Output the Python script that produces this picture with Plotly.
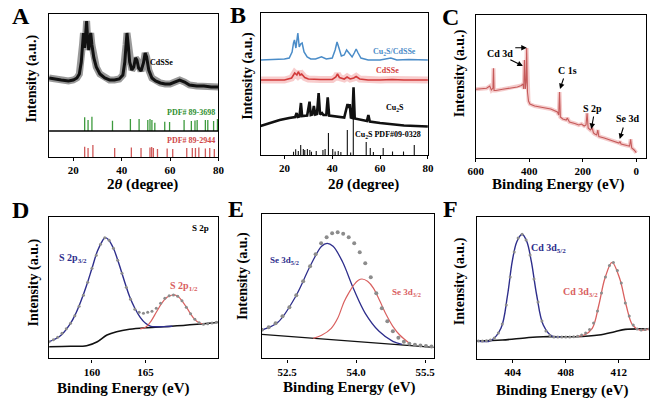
import plotly.graph_objects as go

W, H = 660, 404
SERIF = "Liberation Serif"

# ---------------- Panel A : XRD CdSSe ----------------
a_theta = [10, 12, 15, 18, 20, 21.5, 22.5, 23.3, 23.8, 24.2, 24.7, 25.1, 25.5, 25.9, 26.4, 26.8, 27.2, 27.7,
           28.5, 29.5, 31, 33, 35, 37, 39, 40.5, 41.3, 41.8, 42.2, 42.7, 43.3, 44.2, 45, 45.7, 46.3, 47, 48,
           49, 49.7, 50.3, 51.2, 52.5, 54, 56, 58, 60, 62, 64, 66, 68, 71, 74, 77, 80]
a_int = [79, 78, 77, 76, 77, 79, 83, 95, 112, 124, 109, 119, 136, 119, 107, 117, 124, 112,
         99, 90, 83, 79, 77, 77, 78, 82, 95, 112, 124, 112, 95, 87, 90, 99, 97, 89, 86,
         94, 104, 100, 87, 79, 76, 74, 73, 73, 75, 77, 75, 72, 71, 71, 70, 70]
a_green_pos = [24.7, 26.1, 27.7, 36.2, 43.6, 47.2, 50.8, 51.7, 52.5, 53.7, 57.8, 59.8, 65.8, 68.8, 70.3,
               71.2, 74.6, 75.6, 78.0, 79.6]
a_green_int = [13.7, 11, 14.3, 10.3, 12, 12, 11, 12, 11, 8.3, 9.3, 9, 11, 10, 10.5, 11, 11, 11, 10, 12]
a_red_pos = [24.7, 26.1, 28.1, 37.1, 44.0, 48.0, 51.7, 52.4, 53.1, 54.8, 58.8, 61.1, 66.9, 69.2, 70.5,
             71.9, 74.6, 76.4, 78.3]
a_red_int = [10.3, 9, 12, 9, 9.5, 9, 9.5, 10, 9, 8, 8.5, 8, 9, 9, 9, 9.5, 8.5, 9, 8]

# ---------------- Panel B : XRD comparison ----------------
b_blue_theta = [10, 15, 20, 22, 23.2, 23.8, 24.2, 24.8, 25.6, 26.2, 26.8, 27.4, 28.2, 29.5, 31, 33, 35.5,
                37.5, 40, 41.2, 42, 42.8, 43.8, 45, 46, 47, 48.3, 49.2, 50, 50.8, 52, 55, 60, 64.5, 67,
                72, 76, 80]
b_blue_int = [95, 95.5, 96, 97, 103, 112, 115, 107, 122, 108, 111, 112, 103, 98, 96, 96, 98.3,
              96, 97, 105, 113, 107, 99, 100, 105, 102, 98, 102, 106, 102, 97, 95, 95, 97, 95,
              95.5, 95, 95]
b_red_theta = [10, 20, 23, 24.3, 25.2, 25.8, 26.5, 27.2, 28.5, 30, 35, 40, 41.5, 42.2, 43, 45, 46.2,
               47.5, 49, 50, 51.5, 55, 60, 65, 70, 80]
b_red_int = [75, 75, 77, 82, 80, 83.3, 80, 81, 77.5, 76, 75.5, 75.5, 78, 81, 77.5, 76, 78,
             76, 77, 78.5, 76, 75, 75, 75.5, 75, 75]
b_blk_theta = [10, 14, 18, 22, 24.5, 25.1, 25.6, 26.3, 26.9, 27.4, 29.5, 30.5, 31.0, 31.7, 32.3, 32.9,
               33.6, 34.3, 34.9, 35.7, 36.3, 37.5, 38.1, 38.7, 41, 45, 46.4, 46.85, 47.3, 47.8, 48.4,
               48.9, 49.4, 52, 54.5, 55.1, 55.7, 60, 65, 70, 75, 80]
b_blk_int = [29, 32, 35, 37, 38, 42, 38, 38.5, 52, 39, 39.5, 53.3, 40, 40.5, 49, 40.5,
             41, 62, 40.5, 42, 40, 40, 57.7, 39.5, 39, 37.5, 51, 47, 51, 37.5, 37,
             67.7, 36.5, 35, 34, 40, 33.5, 32, 30.5, 29.5, 29, 28.5]
b_pdf_pos = [23.8, 24.7, 25.8, 26.8, 27.9, 28.5, 29.6, 30.6, 31.3, 33.3, 36.1, 37.0, 38.4, 40.2, 41.2,
             42.5, 43.6, 46.3, 47.7, 48.8, 54.2, 55.9, 57.2, 61.3, 65.2, 69.8, 74.3]
b_pdf_int = [3.3, 5.7, 4, 10, 6, 5, 6, 5, 3.3, 4, 5, 6, 22, 6, 3.5, 4, 3, 25, 2.5, 38, 13, 7, 3, 7,
             3.5, 3.5, 10]

# ---------------- Panel C : XPS survey ----------------
c_be = [600, 580, 560, 548, 542, 536, 534, 532, 525, 500, 470, 445, 430, 424, 421, 418, 415, 412, 410,
        407, 403, 398, 380, 350, 320, 295, 290, 287, 284, 275, 262, 258, 250, 230, 215, 205, 195, 188,
        184, 180, 172, 165, 160, 155, 148, 144, 140, 120, 100, 80, 65, 61, 57, 35, 25, 21, 17, 8, 0]
c_int = [68.7, 69.5, 69.7, 72, 68, 70, 89.7, 67.5, 67.5, 68.7, 70, 71, 72.5, 74, 69, 98, 69, 76, 110,
         66, 57, 54, 52, 50.5, 49, 46, 43, 66, 41, 39, 38, 40, 36, 34.5, 33, 34, 32, 33,
         44.7, 30, 28, 30, 25, 24, 23, 28, 21.5, 20, 18, 16.5, 15, 16.5, 14, 12.5, 12, 18.7, 10, 8, 5.3]
c_ticks = [600, 400, 200, 0]

# ---------------- Panel D : S 2p ----------------
d_bg_be = [156, 158, 159.5, 160.5, 161.4, 162.3, 163.5, 165.1, 167.4, 169.8, 171.8]
d_bg_int = [11.6, 12, 12.6, 16.6, 23.3, 26.6, 29, 30.6, 32, 34, 36]
d_p32_be = [156, 157, 158, 158.5, 159, 159.5, 160, 160.5, 161, 161.2, 161.5, 162, 162.5, 163, 163.5, 164,
            164.5, 165, 165.5, 166, 167, 167.5]
d_p32_int = [16.6, 22, 35, 45, 58, 73, 90, 107, 118, 120.6, 119, 110, 95, 78, 62, 50,
             41, 35, 32, 31.5, 31.8, 32]
d_p12_be = [164.5, 165, 165.5, 166, 166.5, 167, 167.5, 168, 168.5, 169, 169.5, 170, 170.5]
d_p12_int = [29.5, 31, 37, 46, 55, 61, 63.3, 62, 56, 48, 40, 35.5, 34]
d_raw_be = [156.0, 156.4, 156.8, 157.2, 157.6, 158.0, 158.4, 158.8, 159.2, 159.6, 160.0, 160.4, 160.8,
            161.2, 161.6, 162.0, 162.4, 162.8, 163.2, 163.6, 164.0, 164.4, 164.8, 165.2, 165.6, 166.0,
            166.4, 166.8, 167.2, 167.6, 168.0, 168.4, 168.8, 169.2, 169.6, 170.0, 170.4, 170.8, 171.2,
            171.6]
d_raw_int = [16.6, 18.5, 21, 25, 29.5, 35, 42.5, 52, 63, 76, 90, 103, 114,
             120.6, 118, 110, 98, 85, 71, 59, 49, 46, 45, 46, 47, 50,
             55, 60, 62.5, 63.3, 62, 57.5, 51, 44.5, 39, 35.5, 34, 34.5, 35.2, 36]

# ---------------- Panel E : Se 3d ----------------
e_bg_be = [51.95, 55.69]
e_bg_int = [24, 11]
e_p52_be = [51.95, 52.0, 52.3, 52.7, 53.0, 53.25, 53.37, 53.5, 53.7, 53.95, 54.2, 54.5, 54.8, 55.0]
e_p52_int = [28.3, 29, 36, 63, 92, 112, 115, 112, 97, 69, 45, 27, 17, 14]
e_p32_be = [53.07, 53.25, 53.46, 53.6, 53.74, 53.85, 53.95, 54.05, 54.13, 54.25, 54.38, 54.52, 54.66,
            54.8, 54.95, 55.16]
e_p32_int = [20, 23, 30, 40, 56.6, 66, 73.3, 78, 79.3, 77, 70, 57, 43.3, 32, 23.3, 15]
e_raw_be = [51.95, 52.1, 52.25, 52.4, 52.55, 52.7, 52.85, 53.0, 53.12, 53.24, 53.36, 53.48, 53.6, 53.72,
            53.84, 53.96, 54.08, 54.2, 54.32, 54.44, 54.56, 54.68, 54.8, 54.92, 55.04, 55.16, 55.28,
            55.4, 55.52, 55.64]
e_raw_int = [28.5, 31, 35, 42, 51, 63, 77, 92, 104, 115, 121, 125, 126, 124.5,
             121, 115, 106, 95, 81, 65, 50, 37, 27, 20.5, 16.5, 14.5, 13.5,
             12.8, 12.3, 11.8]

# ---------------- Panel F : Cd 3d ----------------
f_bg_be = [401.3, 403.2, 405.06, 406.3, 408.7, 410.5, 411.7, 412.5, 414.3]
f_bg_int = [18, 19, 21.3, 22.3, 22.3, 24, 27.3, 29.6, 30]
f_p52_be = [401.3, 402.35, 403.1, 403.6, 403.95, 404.3, 404.7, 405.06, 405.4, 405.8, 406.3, 407.0, 407.6]
f_p52_int = [18, 18.5, 30.7, 64, 97.3, 117.3, 124.7, 117.3, 97.3, 64, 34, 22.5, 22.3]
f_p32_be = [408.8, 409.4, 410.0, 410.5, 410.96, 411.5, 412.07, 412.56, 413.05, 413.6, 414.3]
f_p32_int = [22.5, 24, 30.7, 54, 80.7, 96.7, 80.7, 54, 34, 29, 30]
f_raw_be = [401.4, 401.7, 402.0, 402.3, 402.6, 402.9, 403.2, 403.5, 403.8, 404.1, 404.4, 404.7, 405.0,
            405.3, 405.6, 405.9, 406.2, 406.5, 406.8, 407.1, 407.4, 407.7, 408.0, 408.3, 408.6, 408.9,
            409.2, 409.5, 409.8, 410.1, 410.4, 410.7, 411.0, 411.3, 411.6, 411.9, 412.2, 412.5, 412.8,
            413.1, 413.4, 413.7, 414.0, 414.3]
f_raw_int = [18, 18, 18.3, 19, 21, 26, 35, 54, 82, 107, 121, 124.7, 119,
             104, 80, 57, 38, 28, 23.5, 22, 22, 22, 22, 22, 22.3, 22.8,
             24, 26, 29.5, 36, 48, 66, 82, 93.5, 96.5, 88.5, 76, 56, 43,
             34, 30, 29, 29.5, 30]

BLUE = "#2e2e8c"
RED = "#d9605f"
GRAY = "#8c8c8c"

fig = go.Figure()


def sticks(pos, heights, base):
    xs, ys = [], []
    for p, h in zip(pos, heights):
        xs += [p, p, None]
        ys += [base, base + h, None]
    return xs, ys


def line(x, y, ax, color, width, shape="linear", opacity=1.0):
    fig.add_trace(go.Scatter(x=x, y=y, mode="lines", xaxis="x" + ax, yaxis="y" + ax,
                             line=dict(color=color, width=width, shape=shape),
                             opacity=opacity, hoverinfo="skip"))


def dots(x, y, ax, size=3):
    fig.add_trace(go.Scatter(x=x, y=y, mode="markers", xaxis="x" + ax, yaxis="y" + ax,
                             marker=dict(color=GRAY, size=size), hoverinfo="skip"))


# Panel A
line(a_theta, a_int, "", "rgba(0,0,0,0.4)", 7)
line(a_theta, a_int, "", "#111111", 3)
gx, gy = sticks(a_green_pos, a_green_int, 26)
line(gx, gy, "", "#3d9a3d", 1.3)
rx, ry = sticks(a_red_pos, a_red_int, 0)
line(rx, ry, "", "#d05a5a", 1.3)

# Panel B
line(b_blue_theta, b_blue_int, "2", "#4a8cc8", 1.5)
line(b_red_theta, b_red_int, "2", "rgba(235,110,110,0.35)", 7)
line(b_red_theta, b_red_int, "2", "#d23a3a", 1.6)
line(b_blk_theta, b_blk_int, "2", "#111111", 2.6)
px_, py_ = sticks(b_pdf_pos, b_pdf_int, 0)
line(px_, py_, "2", "#111111", 1.1)

# Panel C
line(c_be, c_int, "3", "rgba(230,140,140,0.45)", 4)
line(c_be, c_int, "3", "#c55a5a", 1.1)

# Panel D
line(d_bg_be, d_bg_int, "4", "#111111", 1.6, "spline")
line(d_p32_be, d_p32_int, "4", BLUE, 1.4, "spline")
line(d_p12_be, d_p12_int, "4", RED, 1.2, "spline")
dots(d_raw_be, d_raw_int, "4", 3)

# Panel E
line(e_bg_be, e_bg_int, "5", "#111111", 1.3)
line(e_p52_be, e_p52_int, "5", BLUE, 1.3, "spline")
line(e_p32_be, e_p32_int, "5", RED, 1.2, "spline")
dots(e_raw_be, e_raw_int, "5", 4)

# Panel F
line(f_bg_be, f_bg_int, "6", "#111111", 1.6, "spline")
line(f_p52_be, f_p52_int, "6", BLUE, 1.4, "spline")
line(f_p32_be, f_p32_int, "6", RED, 1.3, "spline")
dots(f_raw_be, f_raw_int, "6", 3)


def dom(x0, x1, ytop, ybot):
    return [x0 / W, x1 / W], [1 - ybot / H, 1 - ytop / H]


panels = {
    "": (dom(42, 215, 14, 157), [10, 80], [0, 143], [20, 40, 60, 80], None),
    "2": (dom(258, 429, 13, 155), [10, 80], [0, 142], [20, 40, 60, 80], None),
    "3": (dom(478, 652, 15, 158), [600, -37], [0, 143], c_ticks, None),
    "4": (dom(42, 215, 216.7, 358.3), [156.0, 171.8], [0, 141.6], [160, 165], None),
    "5": (dom(259.3, 435, 214.3, 358.3), [51.95, 55.69], [0, 144], [52.5, 54.0, 55.5],
          ["52.5", "54.0", "55.5"]),
    "6": (dom(479.3, 655, 216.7, 359), [401.3, 414.3], [0, 142.3], [404, 408, 412], None),
}

tickfont = dict(family=SERIF, size=11, color="black", weight="bold")
for k, ((xd, yd), xr, yr, tv, tt) in panels.items():
    xa = dict(domain=xd, range=xr, anchor="y" + k, showline=True, mirror=True, linecolor="black",
              linewidth=1.4, ticks="outside", ticklen=3, tickwidth=1, tickcolor="black",
              tickvals=tv, showgrid=False, zeroline=False, tickfont=tickfont)
    if tt:
        xa["ticktext"] = tt
    ya = dict(domain=yd, range=yr, anchor="x" + k, showline=True, mirror=True, linecolor="black",
              linewidth=1.4, showticklabels=False, ticks="", showgrid=False, zeroline=False)
    fig.layout["xaxis" + k] = xa
    fig.layout["yaxis" + k] = ya

# divider line in panel A
fig.add_shape(type="line", xref="x domain", yref="y", x0=0, x1=1, y0=26, y1=26,
              line=dict(color="black", width=1.4))

anns = []


def ann(text, px, py, size=8, color="black", angle=0, xanchor="center"):
    anns.append(dict(text=text, x=px / W, y=1 - py / H, xref="paper", yref="paper",
                     showarrow=False, textangle=angle, xanchor=xanchor, yanchor="middle",
                     font=dict(family=SERIF, size=size, color=color, weight="bold")))


def arrow(hx, hy, tx, ty):
    anns.append(dict(text="", x=hx / W, y=1 - hy / H, xref="paper", yref="paper",
                     showarrow=True, ax=tx - hx, ay=ty - hy, arrowhead=2, arrowsize=1,
                     arrowwidth=1.1, arrowcolor="black"))


# panel letters
for L, x, y in [("A", 13, 16), ("B", 235, 15), ("C", 452, 17), ("D", 13, 210), ("E", 233, 209),
                ("F", 452, 209)]:
    ann(L, x, y, 24)

# axis titles
for x, y in [(25, 78), (245, 76), (462, 73), (27, 282), (240, 276), (462, 281)]:
    ann("Intensity (a.u.)", x, y, 14, angle=-90)
ann("2<i>θ</i> (degree)", 137, 185, 15)
ann("2<i>θ</i> (degree)", 363, 185, 15)
for x, y in [(562, 185), (118, 388), (349, 387), (567, 390)]:
    ann("Binding Energy (eV)", x, y, 15)

# panel A labels
ann("CdSSe", 157, 62, 8)
ann("PDF# 89-3698", 187, 112, 8, "#2f8f2f")
ann("PDF# 89-2944", 187, 140, 8, "#d04848")
# panel B labels
ann("Cu<sub>2</sub>S/CdSSe", 395, 52, 8, "#4a8cc8")
ann("CdSSe", 388, 71, 8, "#d23a3a")
ann("Cu<sub>2</sub>S", 395, 108, 8)
ann("Cu<sub>2</sub>S PDF#09-0328", 388, 135, 8)
# panel C labels
ann("Cd 3d", 503, 53, 10)
ann("C 1s", 572, 71, 10)
ann("S 2p", 597, 108, 10)
ann("Se 3d", 633, 118, 10)
arrow(530, 47.7, 517, 47.7)
arrow(526, 66, 512, 59)
arrow(564, 89, 568, 77)
arrow(596, 129, 598.5, 115)
arrow(625, 139, 629, 126)
# panel D labels
ann("S 2p", 197, 228, 9)
ann("S 2p<sub>3/2</sub>", 66, 258, 10, BLUE)
ann("S 2p<sub>1/2</sub>", 180, 286, 10, RED)
# panel E labels
ann("Se 3d<sub>5/2</sub>", 282, 260, 9, BLUE)
ann("Se 3d<sub>3/2</sub>", 407, 292, 9, RED)
# panel F labels
ann("Cd 3d<sub>5/2</sub>", 552, 248, 10, BLUE)
ann("Cd 3d<sub>3/2</sub>", 585, 292, 10, RED)

fig.update_layout(width=W, height=H, margin=dict(l=0, r=0, t=0, b=0), paper_bgcolor="white",
                  plot_bgcolor="white", showlegend=False, annotations=anns)

fig.write_html("out.html", config={"displayModeBar": False},
               post_script="document.body.style.margin='0px';document.body.style.padding='0px';"
                           "document.body.style.overflow='hidden';")
